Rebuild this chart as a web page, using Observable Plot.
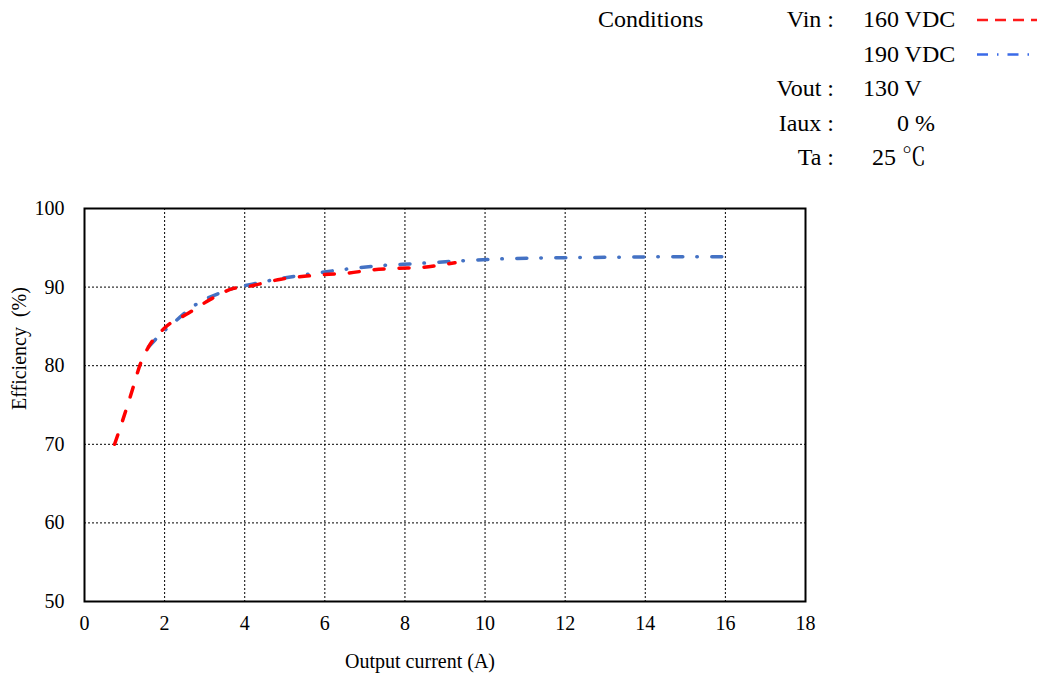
<!DOCTYPE html>
<html>
<head>
<meta charset="utf-8">
<script src="https://cdn.jsdelivr.net/npm/d3@7"></script>
<script src="https://cdn.jsdelivr.net/npm/@observablehq/plot@0.6"></script>
<style>
  html, body { margin: 0; padding: 0; background: #fff; }
  #wrap { width: 1045px; height: 683px; position: relative; font-family: "Liberation Serif", "Noto Serif CJK SC", serif; }
  #header { display: block; }
</style>
</head>
<body>
<div id="wrap"></div>
<script>
// ---- Data ----
const current160 = [0.75, 0.95, 1.2, 1.4, 1.6, 2.0, 2.6, 3.2, 3.7, 4.0, 4.9, 6.0, 6.6, 7.2, 7.8, 8.4, 9.0, 9.25];
const eff160     = [70.0, 73.0, 77.0, 80.3, 82.4, 84.8, 86.7, 88.6, 89.8, 90.0, 91.0, 91.6, 91.8, 92.2, 92.4, 92.5, 92.9, 93.1];
const current190 = [1.6, 1.9, 2.3, 2.7, 3.4, 4.4, 5.4, 6.4, 7.3, 8.3, 9.25, 10.2, 11.2, 12.2, 13.2, 14.2, 15.2, 16.25];
const eff190     = [82.4, 84.0, 85.8, 87.5, 89.3, 90.6, 91.5, 92.2, 92.7, 93.0, 93.3, 93.55, 93.7, 93.75, 93.8, 93.85, 93.85, 93.85];
const xTicks = [0, 2, 4, 6, 8, 10, 12, 14, 16, 18];
const yTicks = [50, 60, 70, 80, 90, 100];
const xLabel = "Output current (A)";
const yLabel = "Efficiency  (%)";
const condTitle = "Conditions";
const condLabels = ["Vin :", "", "Vout :", "Iaux :", "Ta :"];
const condValues = ["160 VDC", "190 VDC", "130 V", "0 %", "25 ℃"];
const seriesColors = ["#ff0000", "#4472c4"];

const data160 = current160.map((x, i) => ({x, y: eff160[i]}));
const data190 = current190.map((x, i) => ({x, y: eff190[i]}));

// ---- Header (conditions legend) ----
const wrap = document.getElementById("wrap");
const ns = "http://www.w3.org/2000/svg";
const header = document.createElementNS(ns, "svg");
header.setAttribute("id", "header");
header.setAttribute("width", 1045);
header.setAttribute("height", 180);
header.style.fontFamily = '"Liberation Serif", "Noto Serif CJK SC", serif';
header.style.fontSize = "24px";
function txt(x, y, s, anchor) {
  const t = document.createElementNS(ns, "text");
  t.setAttribute("x", x); t.setAttribute("y", y);
  t.setAttribute("text-anchor", anchor || "start");
  t.setAttribute("fill", "#000");
  t.textContent = s;
  header.appendChild(t);
}
const rowY = [27, 61.5, 96, 130.5, 165];
const valueX = [863, 863, 863, 897, 872];
txt(598, rowY[0], condTitle);
condLabels.forEach((s, i) => { if (s) txt(834, rowY[i], s, "end"); });
condValues.forEach((s, i) => txt(valueX[i], rowY[i], s));
const legendDash = ["11,7", "11,9,1.5,9"];
const legendColors = ["#ff1a1a", "#3a6ae8"];
[0, 1].forEach(i => {
  const l = document.createElementNS(ns, "line");
  l.setAttribute("x1", 977); l.setAttribute("x2", 1037);
  l.setAttribute("y1", rowY[i] - 7); l.setAttribute("y2", rowY[i] - 7);
  l.setAttribute("stroke", legendColors[i]);
  l.setAttribute("stroke-width", 2.5);
  l.setAttribute("stroke-dasharray", legendDash[i]);
  header.appendChild(l);
});
wrap.appendChild(header);

// ---- Chart ----
const chart = Plot.plot({
  width: 1045,
  height: 503,
  marginTop: 28,
  marginBottom: 82,
  marginLeft: 84,
  marginRight: 240,
  style: {fontFamily: '"Liberation Serif", "Times New Roman", serif', fontSize: "20px", background: "white", color: "black"},
  x: {domain: [0, 18], ticks: xTicks},
  y: {domain: [50, 100], ticks: yTicks},
  marks: [
    Plot.gridX(xTicks.slice(1, -1), {stroke: "black", strokeOpacity: 1, strokeWidth: 1, strokeDasharray: "2,2"}),
    Plot.gridY(yTicks.slice(1, -1), {stroke: "black", strokeOpacity: 1, strokeWidth: 1, strokeDasharray: "2,2"}),
    Plot.axisX(xTicks, {tickSize: 0, tickPadding: 14, label: null, fontSize: 20}),
    Plot.axisY(yTicks, {tickSize: 0, tickPadding: 20, label: null, fontSize: 20}),
    Plot.text([xLabel], {frameAnchor: "bottom", dy: 66, dx: -25, fontSize: 20, fill: "black"}),
    Plot.text([yLabel], {frameAnchor: "left", dx: -65, dy: 5, rotate: -90, fontSize: 20, fill: "black"}),
    Plot.line(data190, {x: "x", y: "y", stroke: seriesColors[1], strokeWidth: 3.5, strokeDasharray: "10,14,0.5,14.5", strokeLinecap: "round", curve: "monotone-x"}),
    Plot.line(data160, {x: "x", y: "y", stroke: seriesColors[0], strokeWidth: 3.5, strokeDasharray: "10,15", strokeLinecap: "round", curve: "monotone-x"}),
    Plot.frame({stroke: "black", strokeWidth: 2})
  ]
});
chart.style.display = "block";
wrap.appendChild(chart);
</script>
</body>
</html>
